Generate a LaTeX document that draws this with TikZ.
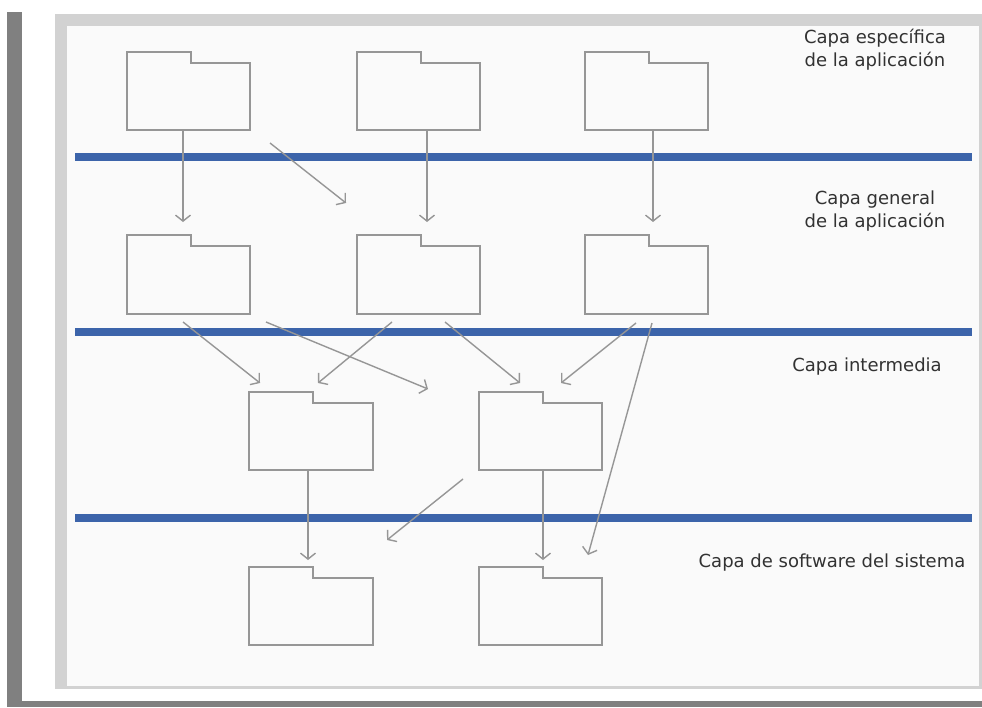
\documentclass[tikz,border=0pt]{standalone}
\usepackage{fontspec}
\setmainfont{DejaVu Sans}
\usepackage{tikz}
\usetikzlibrary{arrows.meta}
\definecolor{framegray}{RGB}{128,128,128}
\definecolor{panelgray}{RGB}{210,210,210}
\definecolor{folderline}{RGB}{150,150,150}
\definecolor{layerblue}{RGB}{60,100,170}
\definecolor{labelgray}{RGB}{50,50,50}

\begin{document}
\begin{tikzpicture}[x=1pt,y=-1pt,
	every node/.style={font=\fontsize{18}{23}\selectfont, text=labelgray},
	folder/.style={minimum width=123pt, minimum height=67pt, inner sep=0pt},
	dep/.style={draw=folderline, line width=1.4pt, -{Straight Barb[length=6pt,width=15pt]}},
	layer/.style={draw=layerblue, line width=7.5pt}]
	\useasboundingbox (0,0) rectangle (982,707);
	% slide frame
	\fill[white] (0,0) rectangle (982,707);
	\fill[framegray] (7,12) rectangle (22,707); \fill[framegray] (7,701) rectangle (982,707);
	\fill[panelgray] (55,14) rectangle (982,689);
	\fill[white!98!black] (67,26) rectangle (979,686);
	% layer separators
	\foreach \y in {157,332,518} {\draw[layer] (75,\y) -- (972,\y);}
	% folders
	\node[folder] (a1) at (188.5,96.5) {}; \node[folder] (a2) at (418.5,96.5) {}; \node[folder] (a3) at (646.5,96.5) {};
	\node[folder] (b1) at (188.5,280) {}; \node[folder] (b2) at (418.5,280) {}; \node[folder] (b3) at (646.5,280) {};
	\node[folder] (c1) at (311,436.5) {}; \node[folder] (c2) at (540.5,436.5) {};
	\node[folder] (d1) at (311,611.5) {}; \node[folder] (d2) at (540.5,611.5) {};
	\foreach \f in {a1,a2,a3,b1,b2,b3,c1,c2,d1,d2}
		{\draw[folderline, line width=1.7pt] (\f.south west) |- ([xshift=64pt,yshift=11pt]\f.north west) |- (\f.north east) -- (\f.south east) -- cycle;}
	% dependency arrows
	\coordinate (e1) at (183,222); \coordinate (e3) at (427,222); \coordinate (e4) at (653,222);
	\coordinate (e11) at (308,560); \coordinate (e13) at (543,560);
	\draw[dep] (a1.south -| e1) -- (e1);
	\draw[dep] (a2.south -| e3) -- (e3);
	\draw[dep] (a3.south -| e4) -- (e4);
	\draw[dep] (c1.south -| e11) -- (e11);
	\draw[dep] (c2.south -| e13) -- (e13);
	\coordinate (s2) at (270,143); \coordinate (e2) at (346,203);
	\coordinate (s5) at (183,322); \coordinate (e5) at (260,383);
	\coordinate (s6) at (392,322); \coordinate (e6) at (318,383);
	\coordinate (s7) at (266,322); \coordinate (e7) at (428,389);
	\coordinate (s8) at (445,322); \coordinate (e8) at (520,383);
	\coordinate (s9) at (636,323); \coordinate (e9) at (561,383);
	\coordinate (s10) at (652,323); \coordinate (e10) at (588,555);
	\coordinate (s12) at (463,479); \coordinate (e12) at (387,540);
	\foreach \a in {2,5,6,7,8,9,10,12} {\draw[dep] (s\a) -- (e\a);}
	% layer names
	\node[align=center] (spec) at (875,50) {Capa específica\\de la aplicación};
	\node[align=center] (gen) at (875,211) {Capa general\\de la aplicación};
	\node (mid) at (867,367) {Capa intermedia};
	\node (sys) at (832,563) {Capa de software del sistema};
\end{tikzpicture}
\end{document}
